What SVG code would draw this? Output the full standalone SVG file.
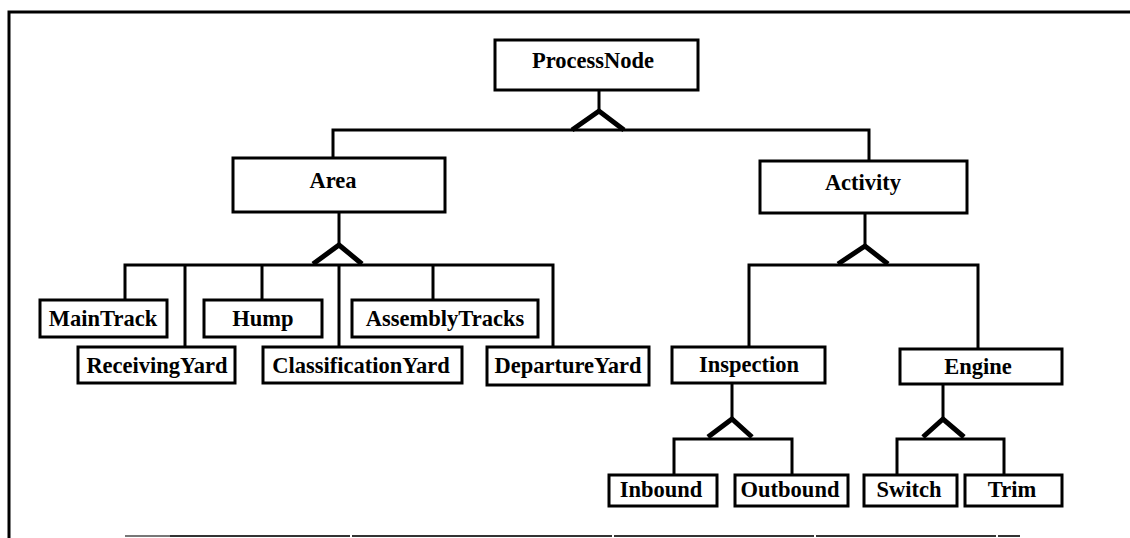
<svg xmlns="http://www.w3.org/2000/svg" width="1130" height="538" viewBox="0 0 1130 538">
  <style>
    .box { fill: #fff; stroke: #000; stroke-width: 3; }
    .lbl { font-family: "Liberation Serif", "DejaVu Serif", serif; font-weight: bold; font-size: 22.5px; text-anchor: middle; fill: #000; }
    .wire { fill: none; stroke: #000; stroke-width: 3; stroke-linejoin: miter; }
    .tri { fill: none; stroke: #000; stroke-width: 5; stroke-linejoin: miter; }
    .frame { fill: none; stroke: #000; stroke-width: 3; }
  </style>
  <rect width="1130" height="538" fill="#fff"/>

  <!-- page frame -->
  <g id="frame">
    <path class="frame" d="M9 538 V12 H1130"/>
    <path d="M125 536 H170" stroke="#777" stroke-width="2" fill="none"/>
    <path d="M170 536 H1020" stroke="#333" stroke-width="2" stroke-dasharray="180 2 260 2 200 2" fill="none"/>
  </g>

  <!-- generalisation connectors -->
  <g id="connectors">
    <!-- ProcessNode -> Area, Activity -->
    <path class="wire" d="M599 90 V112"/>
    <path class="tri" d="M572 130 L599 111 L624 130"/>
    <path class="wire" d="M333 158 V130 H869 V161"/>
    <!-- Area -> children -->
    <path class="wire" d="M339 212 V245"/>
    <path class="tri" d="M313 264 L339 245 L362 264"/>
    <path class="wire" d="M125 300 V265 H553 V347"/>
    <path class="wire" d="M185 265 V347"/>
    <path class="wire" d="M262 265 V300"/>
    <path class="wire" d="M339 265 V347"/>
    <path class="wire" d="M433 265 V300"/>
    <!-- Activity -> Inspection, Engine -->
    <path class="wire" d="M865 213 V246"/>
    <path class="tri" d="M838 264 L865 246 L888 264"/>
    <path class="wire" d="M749 347 V265 H978 V349"/>
    <!-- Inspection -> Inbound, Outbound -->
    <path class="wire" d="M732 383 V419"/>
    <path class="tri" d="M708 437 L732 419 L752 437"/>
    <path class="wire" d="M674 475 V439 H792 V475"/>
    <!-- Engine -> Switch, Trim -->
    <path class="wire" d="M943 384 V419"/>
    <path class="tri" d="M923 437 L943 419 L964 437"/>
    <path class="wire" d="M897 475 V439 H1004 V475"/>
  </g>

  <g id="ProcessNode">
    <rect class="box" x="495" y="40" width="203" height="50"/>
    <text class="lbl" x="593" y="68">ProcessNode</text>
  </g>
  <g id="Area">
    <rect class="box" x="233" y="158" width="212" height="54"/>
    <text class="lbl" x="333" y="188">Area</text>
  </g>
  <g id="Activity">
    <rect class="box" x="760" y="161" width="207" height="52"/>
    <text class="lbl" x="863" y="190">Activity</text>
  </g>
  <g id="MainTrack">
    <rect class="box" x="40" y="300" width="127" height="37"/>
    <text class="lbl" x="103" y="326">MainTrack</text>
  </g>
  <g id="ReceivingYard">
    <rect class="box" x="78" y="347" width="157" height="36"/>
    <text class="lbl" x="157" y="373">ReceivingYard</text>
  </g>
  <g id="Hump">
    <rect class="box" x="204" y="300" width="118" height="37"/>
    <text class="lbl" x="263" y="326">Hump</text>
  </g>
  <g id="ClassificationYard">
    <rect class="box" x="263" y="347" width="199" height="36"/>
    <text class="lbl" x="361" y="373">ClassificationYard</text>
  </g>
  <g id="AssemblyTracks">
    <rect class="box" x="352" y="300" width="186" height="37"/>
    <text class="lbl" x="445" y="326">AssemblyTracks</text>
  </g>
  <g id="DepartureYard">
    <rect class="box" x="487" y="347" width="162" height="38"/>
    <text class="lbl" x="568" y="373">DepartureYard</text>
  </g>
  <g id="Inspection">
    <rect class="box" x="672" y="347" width="153" height="36"/>
    <text class="lbl" x="749" y="372">Inspection</text>
  </g>
  <g id="Engine">
    <rect class="box" x="900" y="349" width="162" height="35"/>
    <text class="lbl" x="978" y="374">Engine</text>
  </g>
  <g id="Inbound">
    <rect class="box" x="609" y="475" width="108" height="31"/>
    <text class="lbl" x="661" y="497">Inbound</text>
  </g>
  <g id="Outbound">
    <rect class="box" x="735" y="475" width="113" height="31"/>
    <text class="lbl" x="790" y="497">Outbound</text>
  </g>
  <g id="Switch">
    <rect class="box" x="864" y="475" width="93" height="31"/>
    <text class="lbl" x="909" y="497">Switch</text>
  </g>
  <g id="Trim">
    <rect class="box" x="965" y="475" width="97" height="31"/>
    <text class="lbl" x="1012" y="497">Trim</text>
  </g>
</svg>
